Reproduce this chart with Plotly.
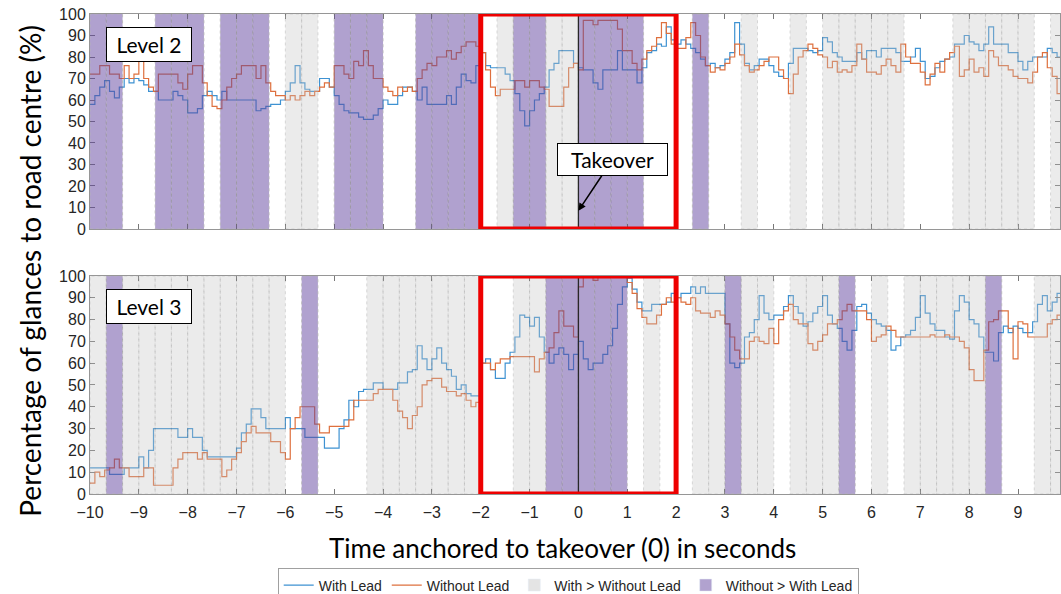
import numpy as np
import plotly.graph_objects as go

# Sample times (s), 0.1 s apart, anchored to the takeover at 0
t = np.round(np.arange(-10.0, 10.0, 0.1), 1)

# Percentage of glances to road centre, Level 2
level2_with = [
    58, 62, 66, 69, 64, 61, 66, 70, 68, 70,
    69, 67, 64, 64, 60, 60, 60, 64, 62, 60,
    54, 54, 56, 62, 64, 62, 60, 64, 60, 60,
    60, 60, 60, 60, 55, 56, 57, 58, 58, 60,
    64, 68, 76, 68, 65, 64, 64, 70, 70, 66,
    62, 58, 55, 54, 54, 52, 51, 51, 53, 56,
    60, 58, 58, 62, 66, 66, 64, 60, 66, 58,
    58, 58, 58, 62, 58, 66, 72, 69, 68, 76,
    82, 76, 75, 75, 75, 72, 69, 63, 55, 48,
    55, 60, 63, 66, 74, 77, 83, 83, 83, 77,
    75, 74, 74, 68, 65, 74, 74, 74, 83, 74,
    74, 74, 68, 75, 82, 83, 86, 85, 94, 88,
    86, 88, 86, 84, 82, 79, 76, 77, 75, 76,
    79, 82, 96, 86, 77, 74, 76, 79, 79, 76,
    73, 71, 70, 77, 84, 84, 84, 83, 82, 83,
    89, 87, 82, 80, 78, 78, 78, 82, 79, 83,
    83, 80, 84, 84, 84, 82, 78, 78, 80, 84,
    78, 70, 71, 75, 78, 79, 80, 86, 86, 90,
    87, 86, 83, 86, 94, 86, 86, 86, 82, 82,
    78, 74, 78, 80, 80, 80, 84, 82, 80, 80,
]
level2_without = [
    72, 72, 76, 76, 72, 72, 70, 76, 70, 72,
    78, 70, 66, 64, 72, 72, 72, 72, 68, 65,
    72, 76, 76, 68, 62, 57, 56, 60, 66, 70,
    72, 76, 76, 76, 70, 76, 68, 64, 62, 62,
    60, 62, 60, 62, 64, 62, 64, 66, 68, 66,
    76, 76, 72, 70, 78, 76, 83, 76, 70, 70,
    66, 64, 62, 66, 64, 66, 64, 70, 74, 77,
    76, 80, 80, 83, 79, 82, 85, 87, 87, 85,
    82, 74, 66, 62, 65, 65, 65, 69, 69, 66,
    69, 69, 66, 65, 57, 57, 57, 66, 75, 77,
    74, 97, 97, 95, 97, 97, 97, 97, 93, 83,
    83, 77, 74, 79, 83, 85, 89, 96, 91, 86,
    84, 84, 89, 96, 90, 80, 76, 73, 75, 74,
    77, 80, 86, 81, 76, 73, 74, 76, 78, 80,
    80, 74, 70, 63, 72, 80, 83, 86, 84, 81,
    80, 75, 78, 73, 74, 73, 76, 86, 79, 73,
    73, 72, 76, 79, 76, 73, 86, 80, 77, 77,
    73, 67, 72, 77, 73, 79, 82, 85, 71, 74,
    79, 73, 75, 71, 83, 80, 76, 76, 74, 71,
    70, 70, 68, 73, 80, 82, 75, 71, 63, 66,
]

# Percentage of glances to road centre, Level 3
level3_with = [
    12, 12, 12, 12, 9, 9, 9, 12, 12, 12,
    17, 12, 20, 30, 30, 30, 30, 30, 26, 26,
    30, 26, 26, 20, 17, 17, 17, 17, 17, 17,
    21, 28, 32, 39, 39, 35, 30, 30, 30, 30,
    35, 30, 30, 30, 26, 26, 26, 26, 21, 21,
    21, 30, 34, 43, 40, 47, 48, 48, 51, 51,
    48, 48, 48, 51, 51, 56, 57, 68, 62, 57,
    62, 67, 60, 57, 54, 48, 50, 46, 45, 45,
    60, 62, 57, 53, 53, 60, 65, 72, 82, 81,
    77, 81, 72, 65, 60, 64, 67, 64, 57, 64,
    70, 62, 57, 60, 60, 64, 68, 76, 87, 95,
    99, 94, 88, 84, 84, 87, 87, 87, 88, 92,
    90, 92, 92, 95, 92, 95, 92, 92, 92, 92,
    78, 60, 58, 60, 72, 74, 80, 91, 83, 80,
    82, 82, 86, 91, 86, 83, 77, 79, 83, 86,
    91, 82, 78, 76, 70, 66, 75, 86, 87, 83,
    80, 78, 77, 75, 66, 68, 72, 73, 75, 81,
    91, 83, 78, 75, 75, 72, 71, 84, 91, 88,
    80, 78, 72, 65, 65, 61, 74, 77, 74, 77,
    76, 74, 74, 79, 87, 91, 84, 88, 92, 90,
]
level3_without = [
    5, 10, 8, 11, 12, 16, 12, 12, 8, 8,
    8, 12, 12, 4, 4, 4, 4, 12, 16, 19,
    19, 19, 16, 19, 16, 16, 16, 8, 11, 16,
    19, 24, 28, 31, 28, 28, 28, 24, 24, 19,
    16, 30, 35, 40, 40, 40, 32, 28, 28, 31,
    31, 31, 31, 34, 43, 43, 43, 43, 46, 48,
    48, 48, 43, 38, 35, 30, 36, 40, 50, 52,
    53, 53, 49, 47, 47, 45, 46, 43, 40, 42,
    60, 60, 57, 60, 62, 62, 63, 63, 63, 63,
    63, 56, 62, 65, 67, 74, 84, 77, 77, 72,
    95, 100, 100, 98, 100, 100, 100, 100, 100, 100,
    97, 92, 85, 81, 78, 78, 82, 87, 90, 88,
    90, 88, 87, 90, 84, 83, 83, 81, 84, 82,
    78, 72, 66, 62, 62, 70, 72, 70, 69, 76,
    69, 80, 84, 87, 80, 78, 78, 69, 66, 70,
    73, 78, 78, 80, 84, 87, 84, 84, 84, 80,
    70, 72, 73, 77, 75, 72, 72, 72, 72, 72,
    72, 72, 73, 72, 72, 73, 72, 72, 70, 67,
    57, 52, 52, 66, 79, 80, 84, 84, 76, 62,
    79, 78, 72, 72, 72, 72, 78, 80, 82, 82,
]

# Comparison per 1/3-second window starting at -10 s:
# 0 = no difference, 1 = With > Without Lead, 2 = Without > With Lead
window_start = -10.0
window_width = 1.0 / 3.0
level2_windows = [
    2, 2, 0, 0, 2, 2, 2, 0, 2, 2,
    2, 0, 1, 1, 0, 2, 2, 2, 0, 0,
    2, 2, 2, 2, 0, 1, 2, 2, 1, 1,
    2, 2, 2, 2, 0, 0, 0, 2, 0, 0,
    1, 0, 0, 1, 0, 1, 1, 1, 1, 1,
    0, 0, 0, 1, 1, 1, 1, 1, 0, 1,
]
level3_windows = [
    1, 2, 1, 1, 1, 1, 1, 1, 1, 1,
    1, 1, 0, 2, 0, 0, 0, 1, 1, 1,
    1, 1, 1, 1, 0, 0, 1, 1, 2, 2,
    2, 2, 2, 0, 1, 0, 0, 1, 1, 2,
    1, 1, 0, 1, 1, 1, 2, 0, 1, 0,
    1, 1, 1, 1, 1, 2, 0, 0, 1, 1,
]

x_ticks = list(range(-10, 10))
y_ticks = list(range(0, 101, 10))
highlight_window = (-2, 2)
panel_labels = ["Level 2", "Level 3"]

BLUE = "rgb(62,146,210)"
ORANGE = "rgb(222,112,62)"
GREY_FILL = "rgb(195,195,195)"
PURPLE_FILL = "rgb(100,70,160)"
TICK_FONT = dict(family="Liberation Sans, Arial", size=16, color="#262626")
TEXT_FONT = "Lato, Carlito, Calibri, sans-serif"
NB = "\u00a0"

fig = go.Figure()

panels = [
    (level2_with, level2_without, level2_windows, "x", "y"),
    (level3_with, level3_without, level3_windows, "x2", "y2"),
]

for i, (w, wo, _, xa, ya) in enumerate(panels):
    fig.add_trace(go.Scatter(
        x=t, y=w, mode="lines", line=dict(color=BLUE, width=1.2, shape="hv"),
        name="With Lead", xaxis=xa, yaxis=ya, showlegend=(i == 0)))
    fig.add_trace(go.Scatter(
        x=t, y=wo, mode="lines", line=dict(color=ORANGE, width=1.2, shape="hv"),
        name="Without Lead", xaxis=xa, yaxis=ya, showlegend=(i == 0)))

# legend swatches for the window shading
fig.add_trace(go.Bar(x=[None], y=[None], name="With > Without Lead",
                     marker=dict(color="rgb(228,228,228)"), showlegend=True))
fig.add_trace(go.Bar(x=[None], y=[None], name="Without > With Lead",
                     marker=dict(color="rgb(177,162,207)"), showlegend=True))

shapes = []
for _, _, windows, xa, ya in panels:
    for k, code in enumerate(windows):
        if code == 0:
            continue
        x0 = window_start + k * window_width
        x1 = x0 + window_width
        if code == 1:
            fill, op = GREY_FILL, 0.33
        else:
            fill, op = PURPLE_FILL, 0.5
        shapes.append(dict(
            type="rect", xref=xa, yref=ya, x0=x0, x1=x1, y0=0, y1=100,
            fillcolor=fill, opacity=op, layer="above",
            line=dict(color="rgb(110,110,110)", width=0.8, dash="dot")))

for _, _, _, xa, ya in panels:
    # takeover moment
    shapes.append(dict(type="line", xref=xa, yref=ya, x0=0, x1=0, y0=0, y1=100,
                       line=dict(color="rgb(40,40,40)", width=1.3), layer="above"))
    # highlighted window around takeover
    shapes.append(dict(type="rect", xref=xa, yref=ya,
                       x0=highlight_window[0], x1=highlight_window[1], y0=0, y1=100,
                       line=dict(color="rgb(238,0,0)", width=5),
                       fillcolor="rgba(0,0,0,0)", layer="above"))

annotations = []
for label, (xa, ya) in zip(panel_labels, [("x", "y"), ("x2", "y2")]):
    annotations.append(dict(
        text=NB + label + NB, xref=xa, yref=ya, x=-8.80, y=85.8, showarrow=False,
        font=dict(family=TEXT_FONT, size=21, color="black"),
        bgcolor="white", bordercolor="black", borderwidth=1, borderpad=4))

annotations.append(dict(
    text=NB + NB + "Takeover" + NB + NB, xref="x", yref="y", x=0, y=8.5,
    ax=34, ay=-51, axref="pixel", ayref="pixel",
    showarrow=True, arrowhead=2, arrowsize=1, arrowwidth=1.5, arrowcolor="black",
    font=dict(family=TEXT_FONT, size=21, color="black"),
    bgcolor="white", bordercolor="black", borderwidth=1, borderpad=3))

annotations.append(dict(
    text="Percentage of glances to road centre (%)", xref="paper", yref="paper",
    x=-0.062, y=0.544, textangle=-90, showarrow=False,
    xanchor="center", yanchor="middle",
    font=dict(family=TEXT_FONT, size=28, color="black")))
annotations.append(dict(
    text="Time anchored to takeover (0) in seconds", xref="paper", yref="paper",
    x=0.4876, y=0.077, showarrow=False, xanchor="center", yanchor="middle",
    font=dict(family=TEXT_FONT, size=26, color="black")))

axis_common = dict(
    range=[-10, 9.86], tickvals=x_ticks, ticks="inside", ticklen=5,
    tickcolor="rgb(120,120,120)", showline=True, linecolor="rgb(150,150,150)",
    linewidth=1, mirror="ticks", showgrid=False, zeroline=False,
    tickfont=TICK_FONT, ticklabelstandoff=4)
yaxis_common = dict(
    range=[0, 100], tickvals=y_ticks, ticks="inside", ticklen=5,
    tickcolor="rgb(120,120,120)", showline=True, linecolor="rgb(150,150,150)",
    linewidth=1, mirror="ticks", showgrid=False, zeroline=False,
    tickfont=TICK_FONT)

fig.update_layout(
    width=1061, height=594,
    margin=dict(l=90, r=1, t=0, b=0, autoexpand=False),
    paper_bgcolor="white", plot_bgcolor="white",
    xaxis=dict(domain=[0, 1], anchor="y", showticklabels=False, **axis_common),
    yaxis=dict(domain=[0.6145, 0.9764], anchor="x", **yaxis_common),
    xaxis2=dict(domain=[0, 1], anchor="y2", showticklabels=True, **axis_common),
    yaxis2=dict(domain=[0.1684, 0.5354], anchor="x2", **yaxis_common),
    shapes=shapes,
    annotations=annotations,
    showlegend=True,
    legend=dict(
        orientation="h", x=0.493, xanchor="center",
        y=0.043, yanchor="top",
        bordercolor="rgb(160,160,160)", borderwidth=1,
        font=dict(family="Liberation Sans, Arial", size=14, color="#262626"),
        itemwidth=30, tracegroupgap=0, bgcolor="white"),
)

fig.write_html("out.html")
